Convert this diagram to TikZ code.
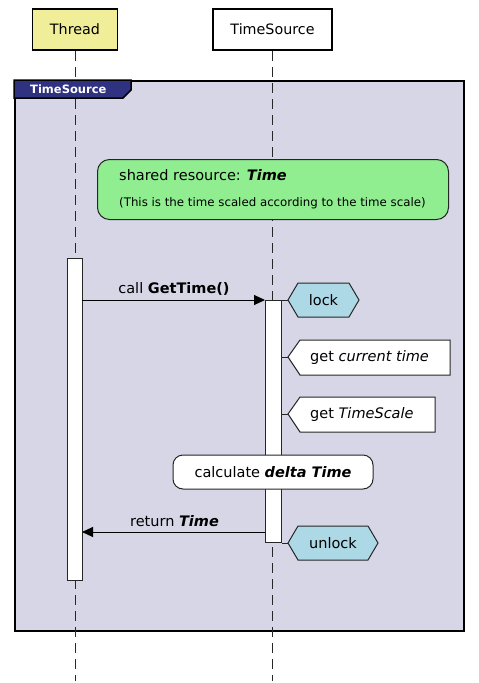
\documentclass[tikz,border=0pt]{standalone}
\usepackage{fontspec}
\setmainfont{DejaVu Sans}
\usetikzlibrary{arrows.meta}
\definecolor{khakiC}{RGB}{240,238,152}
\definecolor{frameC}{RGB}{214,214,231}
\definecolor{tabC}{RGB}{47,49,129}
\definecolor{noteC}{RGB}{144,238,144}
\definecolor{hexC}{RGB}{173,216,230}
\tikzset{
  partbox/.style={draw=black, line width=1.8pt, font=\fontsize{14.3}{16}\selectfont, inner sep=0pt},
  lifeline/.style={draw=black!85, line width=1pt, dash pattern=on 10pt off 6pt},
  actbox/.style={draw=black!85, fill=white, line width=1pt, inner sep=0pt},
  msg/.style={draw=black, line width=1pt, -{Triangle[length=11pt,width=10pt]}},
  lbl/.style={font=\fontsize{14.5}{16}\selectfont, inner sep=0pt},
  smalllbl/.style={font=\fontsize{11.8}{13}\selectfont, inner sep=0pt},
  outl/.style={draw=black!85, line width=1pt},
}
\begin{document}
\begin{tikzpicture}[x=1pt,y=-1pt]
\useasboundingbox (0,0) rectangle (479,683);
% frame
\node[draw=black, line width=2pt, fill=frameC, minimum width=449pt, minimum height=550pt, anchor=north west, inner sep=0pt] (frame) at (14,80) {};
% participants
\node[partbox, fill=khakiC, minimum width=85pt, minimum height=41pt] (thread) at (75,29.5) {Thread};
\node[partbox, fill=white, minimum width=119pt, minimum height=41pt] (source) at (272.5,29.5) {TimeSource};
\coordinate (threadEnd) at (75,681);
\coordinate (sourceEnd) at (272.5,681);
\draw[lifeline] (thread.south) -- (threadEnd);
\draw[lifeline] (source.south) -- (sourceEnd);
% frame tab
\draw[draw=black, line width=1.5pt, fill=tabC] (14,80) -- (131,80) -- (131,90) -- (123,98) -- (14,98) -- cycle;
\node[anchor=west, inner sep=0pt, text=white, font=\bfseries\fontsize{11.5}{13}\selectfont] (tablabel) at (30,89) {TimeSource};
% shared note
\node[draw=black!85, line width=1pt, fill=noteC, rounded corners=12pt, minimum width=351pt, minimum height=60pt, anchor=north west, inner sep=0pt] (shared) at (97,159) {};
\node[lbl, anchor=west] (sharedA) at (119,175) {shared resource: \textbf{\textit{Time}}};
\node[smalllbl, anchor=west] (sharedB) at (119,203) {(This is the time scaled according to the time scale)};
% activations
\node[actbox, minimum width=15pt, minimum height=322pt, anchor=north west] (actT) at (67,258) {};
\node[actbox, minimum width=16pt, minimum height=242pt, anchor=north west] (actS) at (265,300) {};
% call
\coordinate (callStart) at (82,300);
\draw[msg] (callStart) -- (actS.north west);
\node[lbl] (callLbl) at (174,289) {call \textbf{GetTime()}};
% lock
\coordinate (lockTip) at (288,300);
\draw[outl] (actS.north east) -- (lockTip);
\draw[outl, fill=hexC] (288,300) -- (298,283) -- (349,283) -- (359,300) -- (349,317) -- (298,317) -- cycle;
\node[lbl] (lock) at (323.5,300) {lock};
% get current time
\coordinate (curTip) at (288,357);
\coordinate (curBase) at (281,357);
\draw[outl] (curBase) -- (curTip);
\draw[outl, fill=white] (288,357) -- (300,340) -- (450,340) -- (450,375) -- (300,375) -- cycle;
\node[lbl, anchor=west] (cur) at (310,357) {get \textit{current time}};
% get TimeScale
\coordinate (tsTip) at (288,414);
\coordinate (tsBase) at (281,414);
\draw[outl] (tsBase) -- (tsTip);
\draw[outl, fill=white] (288,414) -- (300,397) -- (435,397) -- (435,432) -- (300,432) -- cycle;
\node[lbl, anchor=west] (ts) at (310,414) {get \textit{TimeScale}};
% calculate
\node[draw=black!85, line width=1pt, fill=white, rounded corners=10pt, minimum width=200pt, minimum height=34pt, inner sep=0pt, lbl] (calc) at (273,472) {calculate \textbf{\textit{delta Time}}};
% return
\coordinate (retStart) at (265,532);
\coordinate (retEnd) at (82,532);
\draw[msg] (retStart) -- (retEnd);
\node[lbl] (retLbl) at (174.5,521) {return \textbf{\textit{Time}}};
% unlock
\coordinate (unlockTip) at (288,543);
\draw[outl] (actS.south east) -- (unlockTip);
\draw[outl, fill=hexC] (288,543) -- (298,526) -- (368,526) -- (378,543) -- (368,560) -- (298,560) -- cycle;
\node[lbl] (unlock) at (333,543) {unlock};
\end{tikzpicture}
\end{document}
